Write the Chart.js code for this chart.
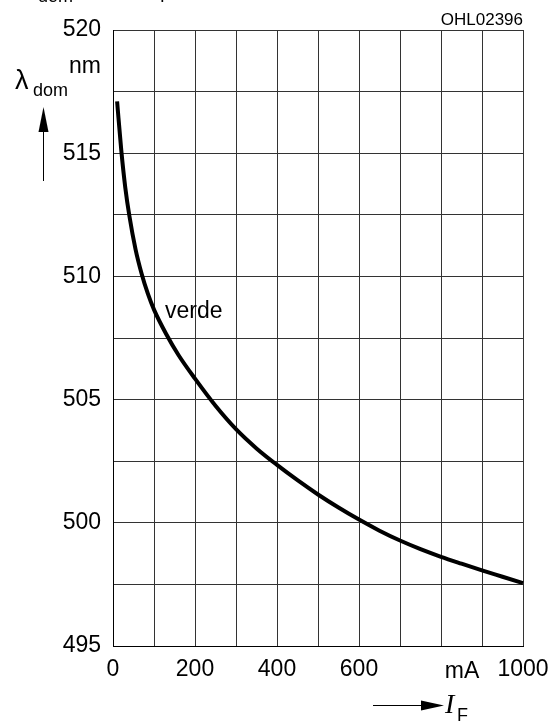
<!DOCTYPE html>
<html>
<head>
<meta charset="utf-8">
<script src="https://cdn.jsdelivr.net/npm/chart.js@4.4.1/dist/chart.umd.min.js"></script>
<style>
  body { margin: 0; background: #fff; }
  canvas { display: block; }
</style>
</head>
<body>
<canvas id="myChart" width="560" height="722"></canvas>
<script>
// forward current I_F in mA
const currentMA = [10, 20, 30, 40, 55, 70, 85, 100, 130, 160, 200, 250, 300, 350, 400, 450, 500, 550, 600, 650, 700, 750, 800, 850, 900, 950, 1000];
// dominant wavelength in nm
const wavelengthNm = [517.1, 515.15, 513.6, 512.45, 511.1, 510.1, 509.3, 508.65, 507.65, 506.8, 505.85, 504.75, 503.8, 503.02, 502.35, 501.73, 501.15, 500.62, 500.13, 499.68, 499.28, 498.93, 498.62, 498.34, 498.07, 497.81, 497.55];
const xTickLabels = [0, 200, 400, 600, 1000];
const yTickLabels = [495, 500, 505, 510, 515, 520];
const seriesName = "verde";

const FONT = "'Liberation Sans', Arial, sans-serif";

function arrowHead(ctx, x1, y1, x2, y2, x3, y3) {
  ctx.beginPath();
  ctx.moveTo(x1, y1);
  ctx.lineTo(x2, y2);
  ctx.lineTo(x3, y3);
  ctx.closePath();
  ctx.fill();
}

const labelsPlugin = {
  id: "labels",
  afterDraw: function (chart) {
    const ctx = chart.ctx;
    ctx.save();
    ctx.fillStyle = "#000";
    ctx.strokeStyle = "#000";
    ctx.textBaseline = "alphabetic";

    // clipped title at the very top
    ctx.textAlign = "left";
    ctx.font = "26px " + FONT;
    ctx.fillText("λ", 18, -6);
    ctx.font = "18px " + FONT;
    ctx.fillText("dom", 38, 2);
    ctx.font = "26px " + FONT;
    ctx.fillText("= ", 84, -6);
    ctx.font = "italic 26px 'Liberation Serif', serif";
    ctx.fillText("f", 104, -6);
    ctx.font = "26px " + FONT;
    ctx.fillText("(", 130, -6);
    ctx.font = "italic 26px 'Liberation Serif', serif";
    ctx.fillText("I", 146, -6);
    ctx.font = "18px " + FONT;
    ctx.fillText("F", 160, 2);
    ctx.font = "26px " + FONT;
    ctx.fillText(")", 196, -6);

    // code number
    ctx.textAlign = "right";
    ctx.font = "17px " + FONT;
    ctx.fillText("OHL02396", 523, 25);

    // y axis title
    ctx.font = "23px " + FONT;
    ctx.fillText("nm", 101, 73);
    ctx.textAlign = "left";
    ctx.font = "27px " + FONT;
    ctx.fillText("λ", 15, 89);
    ctx.font = "18px " + FONT;
    ctx.fillText("dom", 33, 96);
    ctx.lineWidth = 1;
    ctx.beginPath();
    ctx.moveTo(43.5, 181);
    ctx.lineTo(43.5, 128);
    ctx.stroke();
    arrowHead(ctx, 43.5, 107, 38.5, 132, 48.5, 132);

    // x axis title
    ctx.textAlign = "center";
    ctx.font = "23px " + FONT;
    ctx.fillText("mA", 462, 678);
    ctx.beginPath();
    ctx.moveTo(373, 705.5);
    ctx.lineTo(426, 705.5);
    ctx.stroke();
    arrowHead(ctx, 444, 705.5, 421, 700.5, 421, 710.5);
    ctx.textAlign = "left";
    ctx.font = "italic 28px 'Liberation Serif', serif";
    ctx.fillText("I", 445, 713);
    ctx.font = "18px " + FONT;
    ctx.fillText("F", 457, 721);

    // curve name
    ctx.font = "23px " + FONT;
    ctx.fillText(seriesName, 165, 318);
    ctx.restore();
  },
};

const points = currentMA.map((x, i) => ({ x: x, y: wavelengthNm[i] }));

const ctx = document.getElementById("myChart").getContext("2d");
const myChart = new Chart(ctx, {
  type: "scatter",
  data: {
    datasets: [
      {
        label: seriesName,
        data: points,
        showLine: true,
        borderColor: "#000",
        borderWidth: 4,
        pointRadius: 0,
        cubicInterpolationMode: "monotone",
        clip: false,
      },
    ],
  },
  options: {
    responsive: false,
    devicePixelRatio: 1,
    animation: false,
    layout: {
      padding: { left: 0, right: 37, top: 30, bottom: 0 },
    },
    plugins: {
      legend: { display: false },
      tooltip: { enabled: false },
    },
    scales: {
      x: {
        type: "linear",
        min: 0,
        max: 1000,
        afterFit: function (scale) {
          scale.height = 76;
        },
        ticks: {
          stepSize: 100,
          autoSkip: false,
          maxRotation: 0,
          padding: 10,
          color: "#000",
          font: { family: FONT, size: 23 },
          callback: function (v) {
            return xTickLabels.includes(v) ? String(v) : "";
          },
        },
        grid: { color: "#333", lineWidth: 1, drawTicks: false },
        border: { color: "#000", width: 1 },
      },
      y: {
        type: "linear",
        min: 495,
        max: 520,
        afterFit: function (scale) {
          scale.width = 113;
        },
        ticks: {
          stepSize: 2.5,
          autoSkip: false,
          padding: 12,
          color: "#000",
          font: { family: FONT, size: 23 },
          callback: function (v) {
            return yTickLabels.includes(v) ? String(v) : "";
          },
        },
        grid: { color: "#333", lineWidth: 1, drawTicks: false },
        border: { color: "#000", width: 1 },
      },
    },
  },
  plugins: [labelsPlugin],
});
</script>
</body>
</html>
